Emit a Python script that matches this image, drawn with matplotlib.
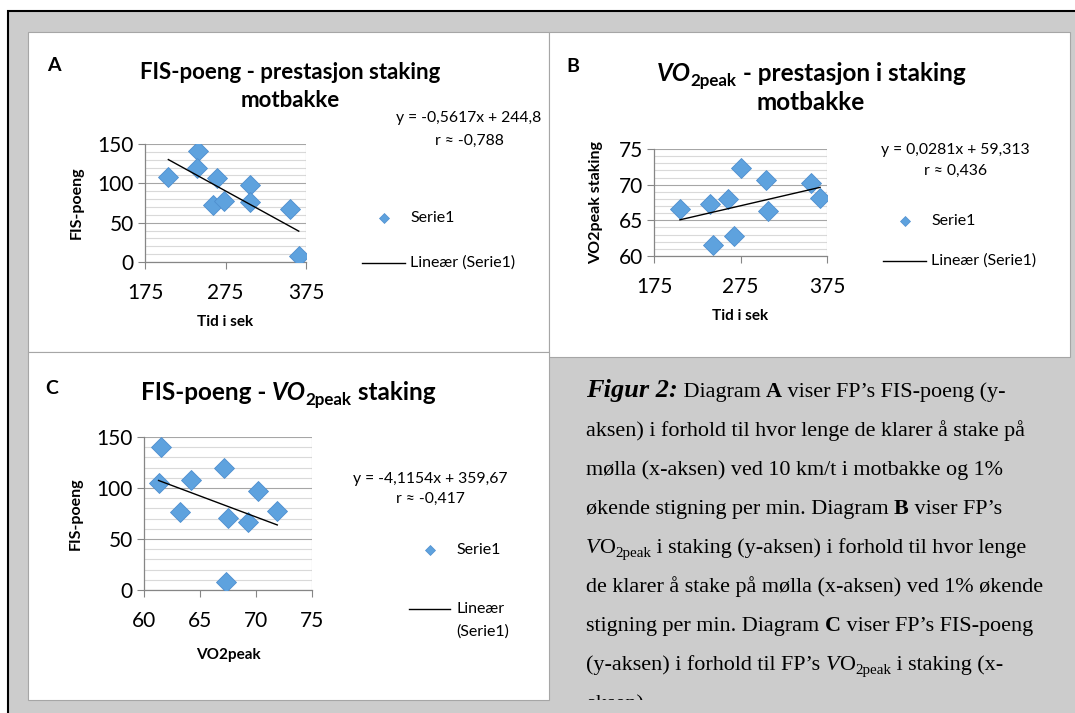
import matplotlib
matplotlib.use("Agg")
import matplotlib.pyplot as plt
import numpy as np
from matplotlib.patches import Rectangle
from matplotlib.ticker import MultipleLocator, FixedLocator

# ---------------- data ----------------
a_time = [204, 241, 239, 265, 259, 273, 305, 306, 355, 366]
a_fis = [108, 141, 120, 107, 72, 78, 98, 76, 68, 7]
a_fit = (-0.5617, 244.8)
a_eq = ["y = -0,5617x + 244,8", "r ≈ -0,788"]

b_time = [205, 240, 243, 261, 267, 276, 304, 307, 356, 367]
b_vo2 = [66.6, 67.3, 61.6, 68.0, 62.8, 72.3, 70.7, 66.3, 70.3, 68.1]
b_fit = (0.0281, 59.313)
b_eq = ["y = 0,0281x + 59,313", "r ≈ 0,436"]

c_vo2 = [61.5, 61.3, 64.2, 63.2, 67.1, 67.5, 67.3, 70.2, 69.3, 71.9]
c_fis = [140, 105, 108, 76, 120, 71, 8, 97, 67, 77]
c_fit = (-4.1154, 359.67)
c_eq = ["y = -4,1154x + 359,67", "r ≈ -0,417"]

time_ticks = [175, 275, 375]
vo2_ticks = [60, 65, 70, 75]

W, H = 1075, 713
plt.rcParams["font.family"] = ["Lato", "DejaVu Sans"]

fig = plt.figure(figsize=(W / 100, H / 100), dpi=100)
fig.patch.set_facecolor("white")


def fx(x):
    return x / W


def fy(y):
    return 1 - y / H


def rect(x0, y0, x1, y1, fc, ec="none", lw=0.0, z=0):
    r = Rectangle((fx(x0), fy(y1)), (x1 - x0) / W, (y1 - y0) / H,
                  transform=fig.transFigure, facecolor=fc, edgecolor=ec,
                  linewidth=lw, zorder=z)
    fig.patches.append(r)
    return r


def T(x, y, s, **kw):
    kw.setdefault("va", "baseline")
    return fig.text(fx(x), fy(y), s, **kw)


renderer = fig.canvas.get_renderer()


def measure(s, p):
    t1 = fig.text(0, 0, "X" + s + "X", **p)
    t2 = fig.text(0, 0, "XX", **p)
    w = t1.get_window_extent(renderer).width - t2.get_window_extent(renderer).width
    t1.remove()
    t2.remove()
    return w


def runs(x, y, parts, ha="left", z=5):
    ws = [measure(s, p) for s, p, dy in parts]
    if ha == "center":
        x -= sum(ws) / 2
    out = []
    for (s, p, dy), w in zip(parts, ws):
        out.append(T(x, y + dy, s, zorder=z, **p))
        x += w
    return out


# ---------------- background frame ----------------
rect(7.5, 11, W + 5, H + 5, "#cccccc", ec="black", lw=1.5, z=0)
rect(28, 32, 549, 352, "white", ec="#a6a6a6", lw=0.8, z=1)
rect(549, 32, 1070, 357, "white", ec="#a6a6a6", lw=0.8, z=1)
rect(28, 352, 549, 700, "white", ec="#a6a6a6", lw=0.8, z=1)

BLUE = "#5ea2de"
BLUE_E = "#4f8fcf"
GRID_MAJ = "#a6a6a6"
GRID_MIN = "#d9d9d9"
TICK_FS = 15
LAB_FS = 11.5
LEG_FS = 11.5


def make_ax(x0, x1, ytop, ybot, xlim, ylim, xticks, ymaj, ymin):
    ax = fig.add_axes([fx(x0), fy(ybot), (x1 - x0) / W, (ybot - ytop) / H])
    ax.set_zorder(3)
    ax.patch.set_alpha(0)
    ax.set_xlim(*xlim)
    ax.set_ylim(*ylim)
    ax.xaxis.set_major_locator(FixedLocator(xticks))
    ax.yaxis.set_major_locator(MultipleLocator(ymaj))
    ax.yaxis.set_minor_locator(MultipleLocator(ymin))
    for s in ["top", "right"]:
        ax.spines[s].set_visible(False)
    for s in ["left", "bottom"]:
        ax.spines[s].set_color("#868686")
        ax.spines[s].set_linewidth(0.9)
    ax.grid(axis="y", which="major", color=GRID_MAJ, lw=0.8)
    ax.grid(axis="y", which="minor", color=GRID_MIN, lw=0.8)
    ax.axvline(ax.get_xlim()[1], color=GRID_MAJ, lw=0.8)
    ax.set_axisbelow(True)
    ax.tick_params(which="major", direction="out", length=5, color="#868686",
                   labelsize=TICK_FS, pad=3)
    ax.tick_params(axis="x", pad=10)
    ax.tick_params(which="minor", length=0)
    return ax


def scatter_trend(ax, xs, ys, fit):
    ax.plot(xs, ys, linestyle="none", marker="D", ms=10, mfc=BLUE, mec=BLUE_E,
            mew=0.6, zorder=3)
    xx = np.array([min(xs), max(xs)])
    ax.plot(xx, fit[0] * xx + fit[1], color="black", lw=1.0, zorder=4)


def legend_block(xd, yd, xl0, xl1, yl, xt, eq_c, eq_y1, eq_y2, eq, two_line=False):
    fig.lines.append(plt.Line2D([fx(xd)], [fy(yd)], transform=fig.transFigure,
                                marker="D", ms=5, mfc=BLUE, mec=BLUE_E, mew=0.5,
                                linestyle="none", zorder=5))
    T(xt, yd, "Serie1", va="center", fontsize=LEG_FS, zorder=5)
    fig.lines.append(plt.Line2D([fx(xl0), fx(xl1)], [fy(yl), fy(yl)],
                                transform=fig.transFigure, color="black", lw=1.0,
                                zorder=5))
    if two_line:
        T(xt, yl, "Lineær", va="center", fontsize=LEG_FS, zorder=5)
        T(xt, yl + 23, "(Serie1)", va="center", fontsize=LEG_FS, zorder=5)
    else:
        T(xt, yl, "Lineær (Serie1)", va="center", fontsize=LEG_FS, zorder=5)
    T(eq_c, eq_y1, eq[0], va="center", ha="center", fontsize=11.3, zorder=5)
    T(eq_c, eq_y2, eq[1], va="center", ha="center", fontsize=11.3, zorder=5)


def title_props(fs):
    return (dict(fontsize=fs, fontweight="bold"),
            dict(fontsize=fs, fontweight="bold", fontstyle="italic"),
            dict(fontsize=fs * 0.7, fontweight="bold"))


# ---------------- Panel A ----------------
axA = make_ax(145, 306, 144, 262, (175, 375), (0, 150), time_ticks, 50, 10)
scatter_trend(axA, a_time, a_fis, a_fit)
axA.set_ylabel("FIS-poeng", fontsize=LAB_FS, fontweight="bold", labelpad=10)
axA.set_xlabel("Tid i sek", fontsize=11, fontweight="bold", labelpad=9)
T(54, 71, "A", ha="center", fontsize=14, fontweight="bold", zorder=5)
bA, _, _ = title_props(16)
T(290, 79, "FIS-poeng - prestasjon staking", ha="center", zorder=5, **bA)
T(290, 107, "motbakke", ha="center", zorder=5, **bA)
legend_block(384, 218, 362, 405, 263, 410, 469, 118, 141, a_eq)

# ---------------- Panel B ----------------
axB = make_ax(654, 827, 149, 256, (175, 375), (60, 75), time_ticks, 5, 1)
scatter_trend(axB, b_time, b_vo2, b_fit)
axB.set_ylabel("VO2peak staking", fontsize=LAB_FS, fontweight="bold", labelpad=11)
axB.set_xlabel("Tid i sek", fontsize=11, fontweight="bold", labelpad=9)
T(573, 72, "B", ha="center", fontsize=14, fontweight="bold", zorder=5)
bB, biB, sB = title_props(17.5)
runs(811, 81, [("VO", biB, 0), ("2peak", sB, 5),
               (" - prestasjon i staking", bB, 0)], ha="center")
T(811, 110, "motbakke", ha="center", zorder=5, **bB)
legend_block(905, 221, 883, 926, 261, 931, 955, 150, 171, b_eq)

# ---------------- Panel C ----------------
axC = make_ax(144, 312, 437, 590, (60, 75), (0, 150), vo2_ticks, 50, 10)
scatter_trend(axC, c_vo2, c_fis, c_fit)
axC.set_ylabel("FIS-poeng", fontsize=LAB_FS, fontweight="bold", labelpad=10)
axC.set_xlabel("VO2peak", fontsize=11, fontweight="bold", labelpad=12)
T(52, 394, "C", ha="center", fontsize=14, fontweight="bold", zorder=5)
bC, biC, sC = title_props(17.5)
runs(288, 400, [("FIS-poeng - ", bC, 0), ("VO", biC, 0), ("2peak", sC, 5),
                (" staking", bC, 0)], ha="center")
legend_block(430, 550, 409, 450, 609, 456, 430, 479, 499, c_eq, two_line=True)

# ---------------- Caption ----------------
SER = ["Liberation Serif", "DejaVu Serif"]
cfs = 15.9
r = dict(fontsize=cfs, family=SER)
b = dict(fontsize=cfs, family=SER, fontweight="bold")
it = dict(fontsize=cfs, family=SER, fontstyle="italic")
sub = dict(fontsize=cfs * 0.68, family=SER)
fig2 = dict(fontsize=19, family=SER, fontweight="bold", fontstyle="italic")

cap_lines = [
    [("Figur 2:", fig2, 0), (" Diagram ", r, 0), ("A", b, 0), (" viser FP’s FIS-poeng (y-", r, 0)],
    [("aksen) i forhold til hvor lenge de klarer å stake på", r, 0)],
    [("mølla (x-aksen) ved 10 km/t i motbakke og 1%", r, 0)],
    [("økende stigning per min. Diagram ", r, 0), ("B", b, 0), (" viser FP’s", r, 0)],
    [("V", it, 0), ("O", r, 0), ("2peak", sub, 4), (" i staking (y-aksen) i forhold til hvor lenge", r, 0)],
    [("de klarer å stake på mølla (x-aksen) ved 1% økende", r, 0)],
    [("stigning per min. Diagram ", r, 0), ("C", b, 0), (" viser FP’s FIS-poeng", r, 0)],
    [("(y-aksen) i forhold til FP’s ", r, 0), ("V", it, 0), ("O", r, 0), ("2peak", sub, 4),
     (" i staking (x-", r, 0)],
    [("aksen).", r, 0)],
]
clip = Rectangle((fx(560), fy(700)), (W - 560) / W, (700 - 360) / H,
                 transform=fig.transFigure, facecolor="none", edgecolor="none")
fig.patches.append(clip)
for i, line in enumerate(cap_lines):
    for t in runs(586, 397 + 39.0 * i, line):
        t.set_clip_path(clip)
        t.set_clip_on(True)

fig.savefig("out.png", dpi=100)
